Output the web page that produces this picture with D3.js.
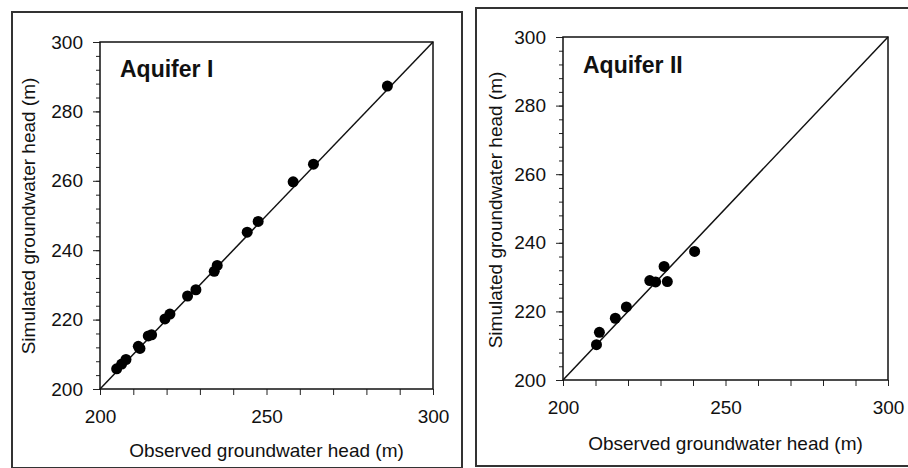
<!DOCTYPE html>
<html>
<head>
<meta charset="utf-8">
<script src="https://cdn.jsdelivr.net/npm/d3@7"></script>
<style>
  body { margin: 0; background: #fff; }
  text { font-family: "Liberation Sans", Arial, sans-serif; fill: #111; }
</style>
</head>
<body>
<div id="chart"></div>
<script>
// observed vs simulated heads (m)
const obsI = [205.0, 206.5, 207.8, 211.5, 212.0, 214.5, 215.5, 219.5, 221.0, 226.3, 228.8, 234.3, 235.2, 244.2, 247.5, 258.0, 264.1, 286.3];
const simI = [205.8, 207.2, 208.5, 212.3, 211.7, 215.3, 215.6, 220.2, 221.6, 226.8, 228.6, 233.9, 235.6, 245.2, 248.3, 259.7, 264.8, 287.3];

const obsII = [210.3, 211.2, 216.1, 219.5, 226.7, 228.5, 231.1, 232.1, 240.5];
const simII = [210.3, 213.9, 218.0, 221.3, 229.0, 228.6, 233.1, 228.7, 237.5];

const axisDomain = [200, 300];
const xTicks = [200, 250, 300];
const yTicks = [200, 220, 240, 260, 280, 300];
const panelTitles = ["Aquifer I", "Aquifer II"];
const xTitle = "Observed groundwater head (m)";
const yTitle = "Simulated groundwater head (m)";

const svg = d3.select("#chart")
  .append("svg")
  .attr("width", 908)
  .attr("height", 468);

function drawPanel(p) {
  const g = svg.append("g");

  // outer frame of the panel
  g.append("rect")
    .attr("x", p.frame[0])
    .attr("y", p.frame[1])
    .attr("width", p.frame[2])
    .attr("height", p.frame[3])
    .attr("fill", "none")
    .attr("stroke", "#333")
    .attr("stroke-width", 2);

  const x = d3.scaleLinear().domain(axisDomain).range([p.left, p.right]);
  const y = d3.scaleLinear().domain(axisDomain).range([p.bottom, p.top]);

  // minor y ticks every 4 m
  g.append("g")
    .attr("transform", `translate(${p.left},0)`)
    .call(d3.axisLeft(y).tickValues(d3.range(200, 301, 4)).tickSize(4).tickFormat(""))
    .call((a) => a.select(".domain").remove())
    .call((a) => a.selectAll("line").attr("stroke", "#222"));

  // major y ticks
  g.append("g")
    .attr("transform", `translate(${p.left},0)`)
    .call(d3.axisLeft(y).tickValues(yTicks).tickSize(7).tickPadding(10))
    .call((a) => a.select(".domain").remove())
    .call((a) => a.selectAll("line").attr("stroke", "#222"))
    .call((a) => a.selectAll("text").style("font-size", "19px").attr("fill", "#111"));

  // x ticks every 10 m, labels only at 200/250/300
  g.append("g")
    .attr("transform", `translate(0,${p.bottom})`)
    .call(
      d3.axisBottom(x)
        .tickValues(d3.range(200, 301, 10))
        .tickSize(6)
        .tickPadding(15)
        .tickFormat((d) => (xTicks.includes(d) ? d : ""))
    )
    .call((a) => a.select(".domain").remove())
    .call((a) => a.selectAll("line").attr("stroke", "#222"))
    .call((a) => a.selectAll("text").style("font-size", "19px").attr("fill", "#111"));

  // plot box
  g.append("rect")
    .attr("x", p.left)
    .attr("y", p.top)
    .attr("width", p.right - p.left)
    .attr("height", p.bottom - p.top)
    .attr("fill", "none")
    .attr("stroke", "#111")
    .attr("stroke-width", 1.5);

  // 1:1 line
  g.append("line")
    .attr("x1", x(axisDomain[0]))
    .attr("y1", y(axisDomain[0]))
    .attr("x2", x(axisDomain[1]))
    .attr("y2", y(axisDomain[1]))
    .attr("stroke", "#111")
    .attr("stroke-width", 1.5);

  // points
  g.selectAll("circle")
    .data(p.obs.map((o, i) => ({ o, s: p.sim[i] })))
    .enter()
    .append("circle")
    .attr("cx", (d) => x(d.o))
    .attr("cy", (d) => y(d.s))
    .attr("r", 5.5)
    .attr("fill", "#000");

  // panel title
  g.append("text")
    .attr("x", p.left + 20)
    .attr("y", p.titleY)
    .style("font-size", "23px")
    .style("font-weight", "bold")
    .text(p.title);

  // axis titles
  g.append("text")
    .attr("x", (p.left + p.right) / 2)
    .attr("y", p.xTitleY)
    .attr("text-anchor", "middle")
    .style("font-size", "19px")
    .text(xTitle);

  g.append("text")
    .attr("transform", `translate(${p.yTitleX},${p.yTitleMid}) rotate(-90)`)
    .attr("text-anchor", "middle")
    .style("font-size", "19px")
    .text(yTitle);
}

drawPanel({
  frame: [12, 12, 450, 456],
  left: 100, right: 433, top: 42, bottom: 389,
  obs: obsI, sim: simI,
  title: panelTitles[0],
  titleY: 77,
  xTitleY: 457,
  yTitleX: 35, yTitleMid: 216
});

drawPanel({
  frame: [476, 8, 440, 458],
  left: 563, right: 888, top: 37, bottom: 380,
  obs: obsII, sim: simII,
  title: panelTitles[1],
  titleY: 73,
  xTitleY: 450,
  yTitleX: 502, yTitleMid: 210
});
</script>
</body>
</html>
